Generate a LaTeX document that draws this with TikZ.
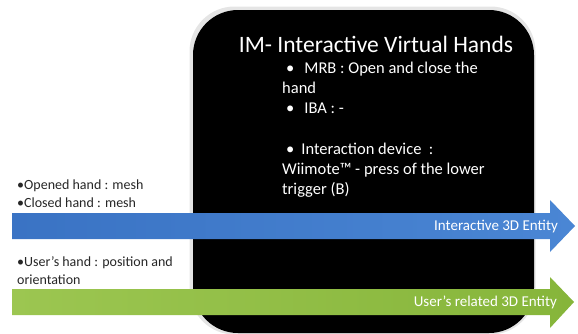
\documentclass[tikz,border=0pt]{standalone}
\usepackage{fontspec}
\setmainfont{Carlito}
\usetikzlibrary{positioning}
\definecolor{blueL}{HTML}{3A73C4}
\definecolor{blueR}{HTML}{4A86D4}
\definecolor{greenL}{HTML}{9CC651}
\definecolor{greenR}{HTML}{86B53A}
\tikzset{%
	% Specifications for style of nodes:
	base/.style = {inner sep=0pt, align=left, anchor=west},
	panel/.style = {rectangle, rounded corners=45pt, fill=black, minimum width=341pt, minimum height=323pt},
	halo/.style = {panel, fill=black, opacity=0.1, minimum width=346pt, minimum height=328pt},
	title/.style = {inner sep=0pt, text=white, font=\fontsize{23.5}{28}\selectfont},
	item/.style = {base, text=white, font=\fontsize{16.5}{20}\selectfont},
	note/.style = {base, text=black!85, font=\fontsize{14}{18}\selectfont},
	tag/.style = {inner sep=0pt, anchor=east, text=white, font=\fontsize{15}{18}\selectfont},
}

\begin{document}
\begin{tikzpicture}[x=1pt,y=-1pt]
		\useasboundingbox (0,0) rectangle (578,333);
		\node (shadow) [halo] at (362.5,170.5) {};
		\node (panel) [panel] at (363.5,171.5) {};
		\node (title) [title] at (376,44) {IM- Interactive Virtual Hands};
		\node (mrb) [item] at (282,88) {\hspace*{4pt}•\hspace*{10pt}MRB : Open and close the\\hand\\\hspace*{4pt}•\hspace*{10pt}IBA : -};
		\node (device) [item] at (282,170) {\hspace*{4pt}•\hspace*{7pt}Interaction device~~:\\Wiimote™ - press of the lower\\trigger (B)};
		
		\node (mesh) [note] at (17,194) {•Opened hand : mesh\\•Closed hand : mesh};
		\node (userhand) [note] at (17,271) {•User’s hand : position and\\orientation};
		
		\shade [left color=blueL, right color=blueR] (12,213) -- (550,213) -- (550,200) -- (575,226) -- (550,252) -- (550,239) -- (12,239) -- cycle;
		\shade [left color=greenL, right color=greenR] (12,289) -- (550,289) -- (550,277) -- (574,302) -- (550,328) -- (550,315) -- (12,315) -- cycle;
		
		\node (interactive) [tag] at (558,227) {Interactive 3D Entity};
		\node (related) [tag] at (557,302) {User’s related 3D Entity};
		
     \end{tikzpicture}
\end{document}
